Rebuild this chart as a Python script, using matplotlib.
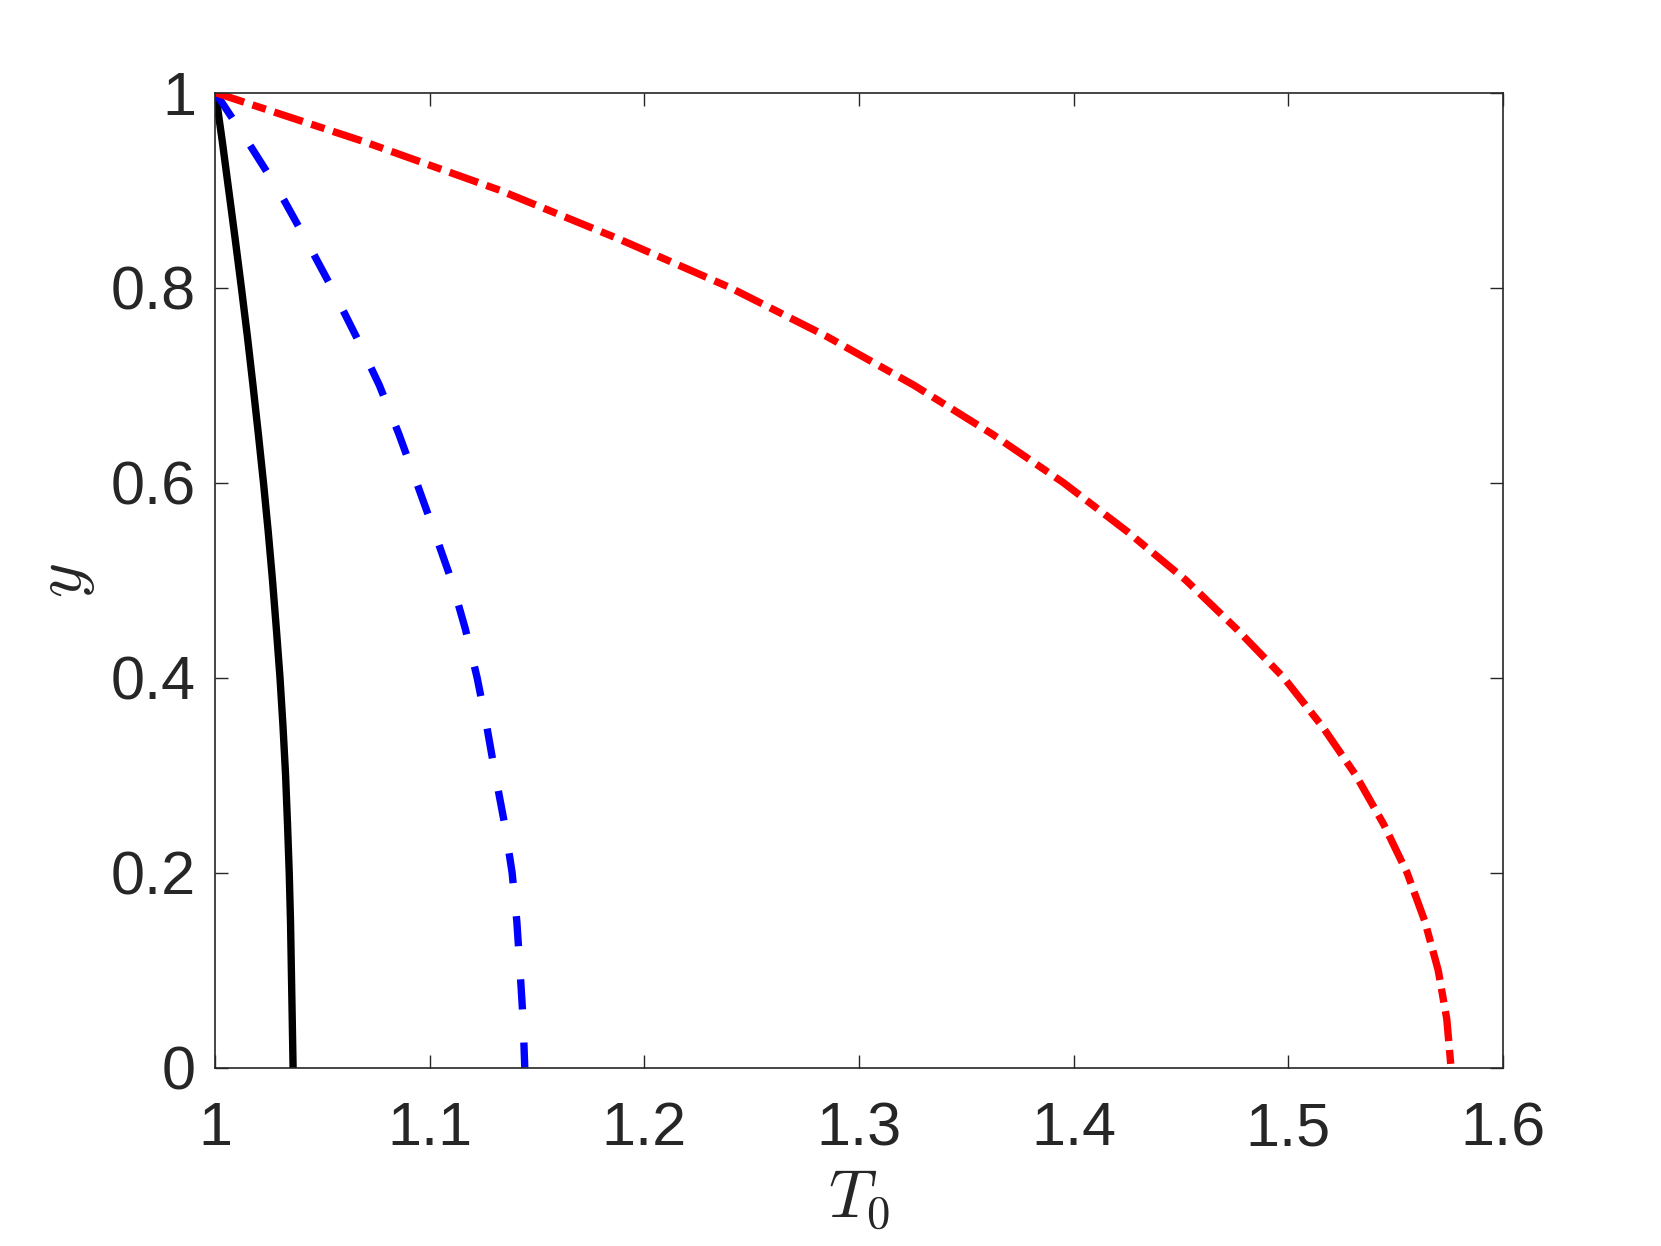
import matplotlib
matplotlib.use('Agg')
from matplotlib import pyplot as plt

# valores (y frente a T0)
y_vals = [1.0, 0.95, 0.9, 0.85, 0.8, 0.75, 0.7, 0.65, 0.6, 0.55, 0.5, 0.45, 0.4,
          0.35, 0.3, 0.25, 0.2, 0.15, 0.1, 0.05, 0.0]
t0_negro = [1.0, 1.0032, 1.0062, 1.0092, 1.0121, 1.0149, 1.0175, 1.0200, 1.0224, 1.0246, 1.0266,
            1.0284, 1.0301, 1.0315, 1.0327, 1.0336, 1.0344, 1.035, 1.0354, 1.0358, 1.0362]
t0_azul = [1.0, 1.015, 1.0294, 1.042, 1.0542, 1.0656, 1.0764, 1.0855, 1.0938, 1.102, 1.110,
           1.1165, 1.122, 1.1265, 1.1305, 1.1348, 1.1383, 1.1405, 1.142, 1.1434, 1.1442]
t0_rojo = [1.0, 1.069, 1.1325, 1.188, 1.240, 1.285, 1.3256, 1.362, 1.3953, 1.425, 1.4524,
           1.476, 1.498, 1.516, 1.5316, 1.5445, 1.5555, 1.5638, 1.570, 1.574, 1.576]

plt.rcParams['mathtext.fontset'] = 'cm'
plt.rcParams['font.family'] = ['Liberation Sans', 'DejaVu Sans']

fig = plt.figure(figsize=(16.61, 12.46), dpi=100)
ax = fig.add_axes([0.1297, 0.1431, 0.7749, 0.7825])

ax.plot(t0_negro, y_vals, color='black', lw=5.3, solid_capstyle='round')
ax.plot(t0_azul, y_vals, color='blue', lw=5.3, dashes=(4.1, 4.5))
ax.plot(t0_rojo, y_vals, color='red', lw=5.3, dashes=(4.1, 1.2, 1.9, 1.2))

ax.set_xlim(1, 1.6)
ax.set_ylim(0, 1)
ax.set_xticks([1, 1.1, 1.2, 1.3, 1.4, 1.5, 1.6])
ax.set_xticklabels(['1', '1.1', '1.2', '1.3', '1.4', '1.5', '1.6'])
ax.set_yticks([0, 0.2, 0.4, 0.6, 0.8, 1])
ax.set_yticklabels(['0', '0.2', '0.4', '0.6', '0.8', '1'])

gris = '#262626'
for s in ax.spines.values():
    s.set_color(gris)
    s.set_linewidth(1.2)
ax.tick_params(direction='in', length=9.5, width=1.0, colors=gris, labelsize=44,
               top=True, right=True)
ax.tick_params(axis='x', pad=24)
ax.tick_params(axis='y', pad=14)

ax.set_xlabel(r'$T_0$', fontsize=48, color=gris, labelpad=8)
ax.set_ylabel(r'$y$', fontsize=48, color=gris, labelpad=10)

fig.savefig('out.png', dpi=100)
